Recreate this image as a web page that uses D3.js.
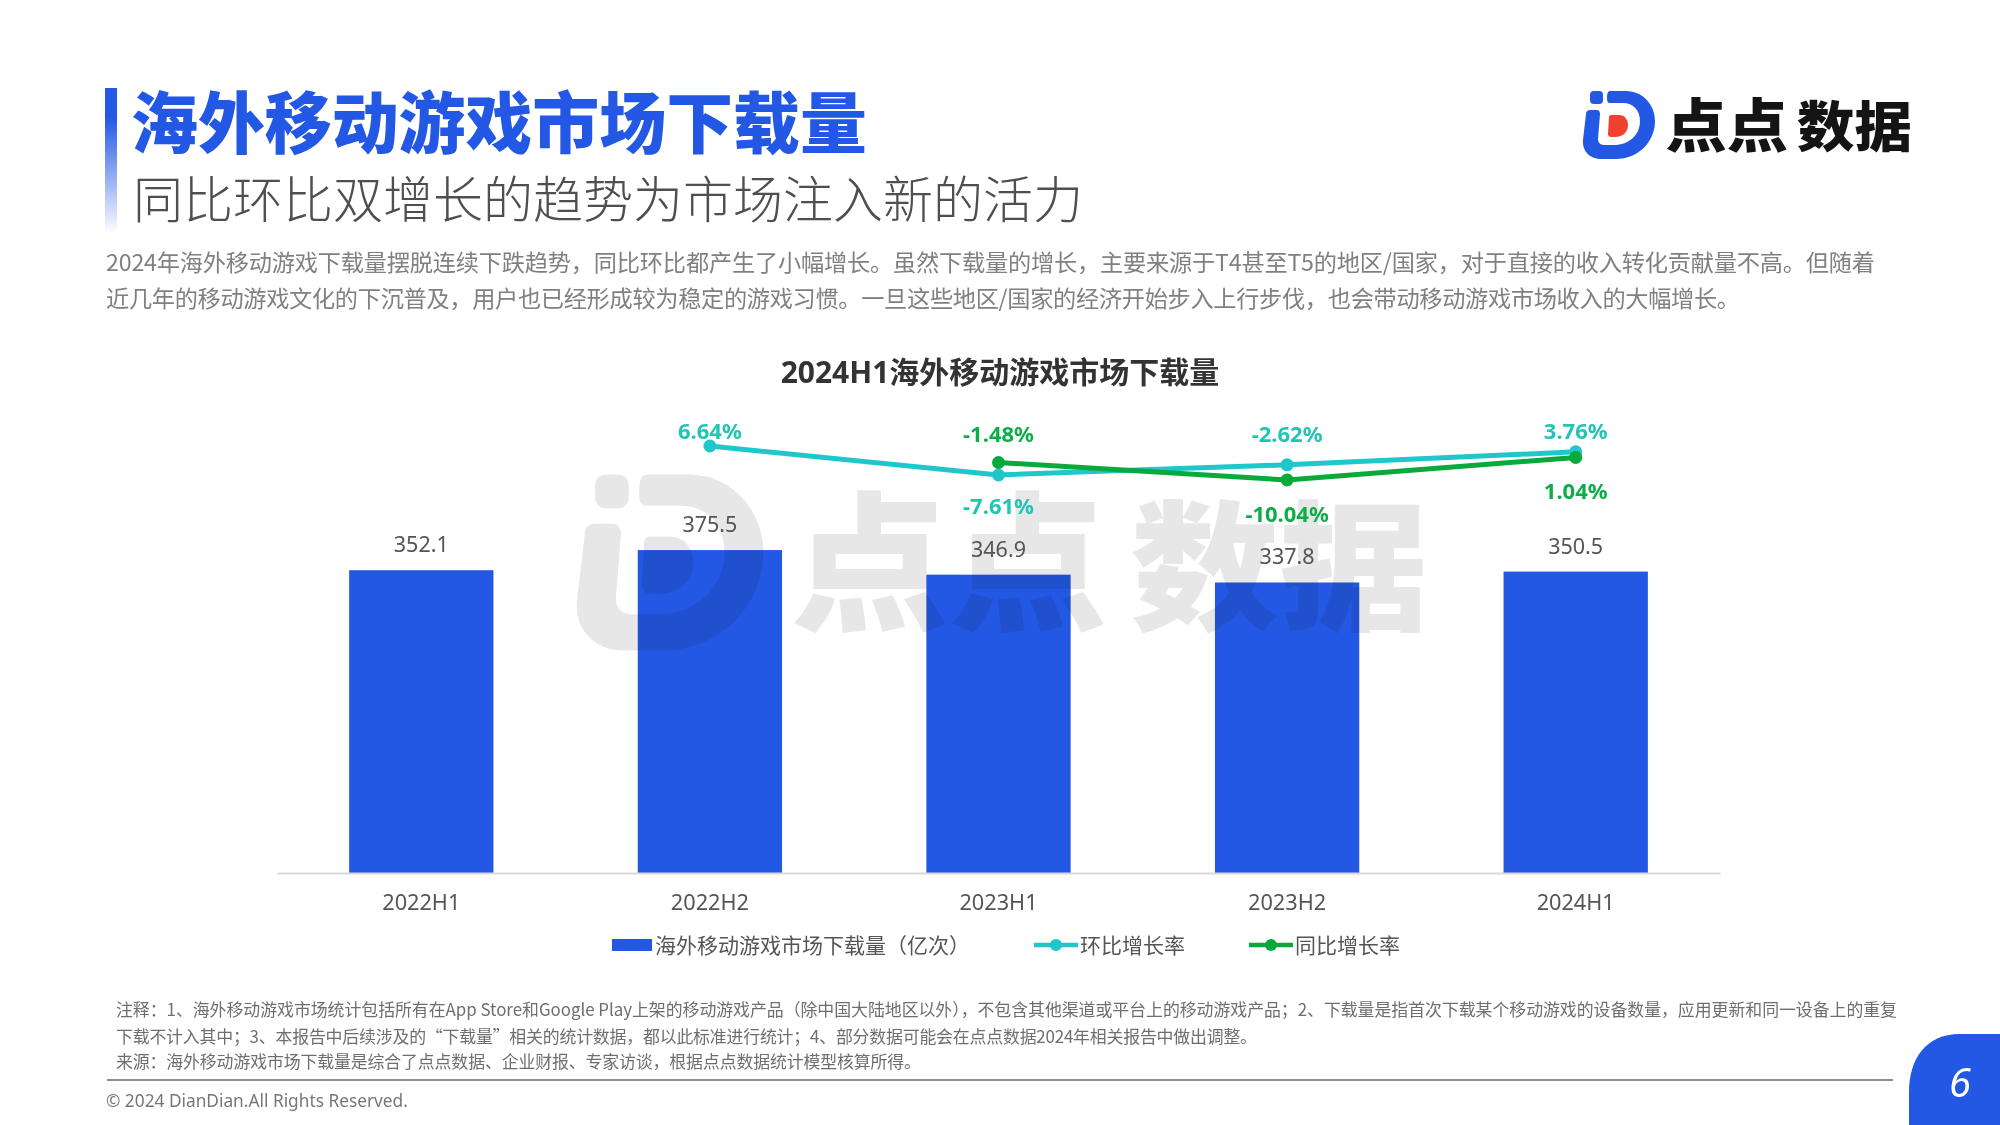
<!DOCTYPE html>
<html>
<head>
<meta charset="utf-8">
<script src="https://cdn.jsdelivr.net/npm/d3@7/dist/d3.min.js"></script>
<style>
    html, body { margin: 0; padding: 0; background: #fff; }
    svg { display: block; }
    text { font-family: "Noto Sans", "Noto Sans CJK SC", sans-serif; }
</style>
</head>
<body>
<svg id="slide" width="2000" height="1125"></svg>
<script>
const categories = ['2022H1', '2022H2', '2023H1', '2023H2', '2024H1'];
const downloads = [352.1, 375.5, 346.9, 337.8, 350.5];
const qoqGrowth = [null, 6.64, -7.61, -2.62, 3.76];
const yoyGrowth = [null, null, -1.48, -10.04, 1.04];

const legendLabels = ['海外移动游戏市场下载量（亿次）', '环比增长率', '同比增长率'];
const headline = '海外移动游戏市场下载量';
const subhead = '同比环比双增长的趋势为市场注入新的活力';
const chartTitle = '2024H1海外移动游戏市场下载量';
const bodyLines = [
    '2024年海外移动游戏下载量摆脱连续下跌趋势，同比环比都产生了小幅增长。虽然下载量的增长，主要来源于T4甚至T5的地区/国家，对于直接的收入转化贡献量不高。但随着',
    '近几年的移动游戏文化的下沉普及，用户也已经形成较为稳定的游戏习惯。一旦这些地区/国家的经济开始步入上行步伐，也会带动移动游戏市场收入的大幅增长。'
];
const noteLines = [
    '注释：1、海外移动游戏市场统计包括所有在App Store和Google Play上架的移动游戏产品（除中国大陆地区以外），不包含其他渠道或平台上的移动游戏产品；2、下载量是指首次下载某个移动游戏的设备数量，应用更新和同一设备上的重复',
    '下载不计入其中；3、本报告中后续涉及的“下载量”相关的统计数据，都以此标准进行统计；4、部分数据可能会在点点数据2024年相关报告中做出调整。',
    '来源：海外移动游戏市场下载量是综合了点点数据、企业财报、专家访谈，根据点点数据统计模型核算所得。'
];
const copyright = '© 2024 DianDian.All Rights Reserved.';

const BLUE = '#2358e4';
const TEAL = '#1fc7cb';
const GREEN = '#0aa93c';
const CJK = '"Noto Sans CJK SC", sans-serif';

const svg = d3.select('#slide');

// same mark is used twice: top right logo and the big grey watermark
function drawLogo(g, markFill, dotFill, textFill) {
    g.append('rect').attr('x', 7).attr('y', 1).attr('width', 13).attr('height', 13).attr('rx', 4).attr('fill', markFill);
    g.append('path')
        .attr('fill', markFill)
        .attr('d', 'M27,1 L43,1 C60,1 72,15 72,31 C72,52 55,69 33,69 L18,69 C6,69 -1,60 0,50 L3,24 C3,21 5,20 7,20 L14,20 C16,20 17,22 17,24 L15,49 C15,52 17,55 21,55 L31,55 C46,55 57,45 57,31 C57,20 50,13 40,13 L27,13 C25,13 24,12 24,8 C24,3 25,1 27,1 Z');
    g.append('path')
        .attr('fill', dotFill)
        .attr('d', 'M28,25 L36,25 C42,25 45,30 45,35 C45,42 40,47 32,47 L28,47 C26,47 25,45 25,44 L26,27 C26,26 27,25 28,25 Z');
    g.append('text').attr('x', 82.5).attr('y', 57).attr('textLength', 122.5).attr('lengthAdjust', 'spacingAndGlyphs')
        .attr('font-size', 58).attr('font-weight', 900).style('font-family', CJK).attr('fill', textFill).text('点点');
    g.append('text').attr('x', 214).attr('y', 57).attr('textLength', 115).attr('lengthAdjust', 'spacingAndGlyphs')
        .attr('font-size', 54).attr('font-weight', 900).style('font-family', CJK).attr('fill', textFill).text('数据');
}

function drawHeader() {
    const grad = svg.append('defs').append('linearGradient')
        .attr('id', 'barFade').attr('x1', 0).attr('y1', 0).attr('x2', 0).attr('y2', 1);
    grad.append('stop').attr('offset', '0%').attr('stop-color', BLUE);
    grad.append('stop').attr('offset', '20%').attr('stop-color', BLUE);
    grad.append('stop').attr('offset', '100%').attr('stop-color', BLUE).attr('stop-opacity', 0);

    svg.append('rect').attr('x', 105).attr('y', 88).attr('width', 12).attr('height', 146).attr('fill', 'url(#barFade)');

    svg.append('text').attr('x', 131).attr('y', 148).attr('font-size', 66.9).attr('font-weight', 900)
        .style('font-family', CJK).attr('fill', BLUE).text(headline);
    svg.append('text').attr('x', 133).attr('y', 218).attr('font-size', 50).attr('font-weight', 300)
        .style('font-family', CJK).attr('fill', '#4f4f4f').text(subhead);

    const bodyWidths = [1769, 1634];
    svg.selectAll('.body-line')
        .data(bodyLines)
        .enter()
        .append('text')
        .attr('class', 'body-line')
        .attr('x', 106)
        .attr('y', (d, i) => 271 + i * 36)
        .attr('font-size', 23.2)
        .attr('textLength', (d, i) => bodyWidths[i])
        .style('font-family', CJK)
        .attr('fill', '#808080')
        .text(d => d);

    drawLogo(svg.append('g').attr('transform', 'translate(1583,90)'), BLUE, '#f0402f', '#141414');
}

function drawChart() {
    const x = d3.scaleBand().domain(categories).range([277, 1720]).paddingInner(0.5).paddingOuter(0.25);
    const y = d3.scaleLinear().domain([0, 400]).range([873, 529]);
    const yRate = d3.scaleLinear().domain([-20, 20]).range([500.2, 418.8]);

    svg.append('text').attr('x', 1000).attr('y', 383).attr('text-anchor', 'middle')
        .attr('font-size', 30).attr('font-weight', 700).attr('fill', '#333').text(chartTitle);

    svg.selectAll('.bar')
        .data(downloads)
        .enter()
        .append('rect')
        .attr('class', 'bar')
        .attr('x', (d, i) => x(categories[i]))
        .attr('y', d => y(d))
        .attr('width', x.bandwidth())
        .attr('height', d => y(0) - y(d))
        .attr('fill', BLUE);

    const watermark = svg.append('g')
        .attr('transform', 'translate(577,472) scale(2.587)')
        .style('mix-blend-mode', 'multiply');
    drawLogo(watermark, '#e7e7e7', '#e7e7e7', '#e7e7e7');

    const xAxis = svg.append('g')
        .attr('transform', 'translate(0,873)')
        .call(d3.axisBottom(x).tickSize(0).tickPadding(22));
    xAxis.select('.domain').attr('stroke', '#d9d9d9').attr('stroke-width', 2);
    xAxis.selectAll('text').attr('font-size', 21.7).attr('fill', '#555')
        .style('font-family', '"Noto Sans", sans-serif');

    svg.selectAll('.bar-label')
        .data(downloads)
        .enter()
        .append('text')
        .attr('class', 'bar-label')
        .attr('x', (d, i) => x(categories[i]) + x.bandwidth() / 2)
        .attr('y', d => y(d) - 18)
        .attr('text-anchor', 'middle')
        .attr('font-size', 21.5)
        .attr('fill', '#555')
        .text(d => d.toFixed(1));

    const center = i => x(categories[i]) + x.bandwidth() / 2;
    const line = d3.line()
        .defined(d => d !== null)
        .x((d, i) => center(i))
        .y(d => yRate(d));

    const series = [
        { values: qoqGrowth, other: yoyGrowth, color: TEAL, labelColor: '#22c4b4', below: 39, key: 'qoq' },
        { values: yoyGrowth, other: qoqGrowth, color: GREEN, labelColor: '#0bae48', below: 42, key: 'yoy' }
    ];

    series.forEach(s => {
        svg.append('path')
            .datum(s.values)
            .attr('fill', 'none')
            .attr('stroke', s.color)
            .attr('stroke-width', 5)
            .attr('d', line);

        svg.selectAll('.dot-' + s.key)
            .data(s.values)
            .enter()
            .filter(d => d !== null)
            .append('circle')
            .attr('class', 'dot-' + s.key)
            .attr('cx', d => center(s.values.indexOf(d)))
            .attr('cy', d => yRate(d))
            .attr('r', 6.5)
            .attr('fill', s.color);

        // the higher of the two rates gets its label in the row above the lines, the lower goes under them
        svg.selectAll('.rate-' + s.key)
            .data(s.values)
            .enter()
            .filter(d => d !== null)
            .append('text')
            .attr('class', 'rate-' + s.key)
            .attr('x', d => center(s.values.indexOf(d)))
            .attr('y', d => {
                const other = s.other[s.values.indexOf(d)];
                if (other !== null && other > d) return yRate(d) + s.below;
                return d > 3 ? 439 : 442;
            })
            .attr('text-anchor', 'middle')
            .attr('font-size', 22)
            .attr('font-weight', 700)
            .attr('fill', s.labelColor)
            .text(d => d.toFixed(2) + '%');
    });
}

function drawLegend() {
    const legend = svg.append('g').attr('transform', 'translate(0,945)');
    legend.append('rect').attr('x', 612).attr('y', -6).attr('width', 40).attr('height', 12).attr('fill', BLUE);
    legend.append('text').attr('x', 655).attr('y', 8).attr('font-size', 21).attr('fill', '#555').text(legendLabels[0]);

    [[1034, TEAL, 1], [1249, GREEN, 2]].forEach(([lx, color, idx]) => {
        legend.append('line').attr('x1', lx).attr('x2', lx + 44).attr('stroke', color).attr('stroke-width', 4.5);
        legend.append('circle').attr('cx', lx + 22).attr('r', 6).attr('fill', color);
        legend.append('text').attr('x', lx + 46).attr('y', 8).attr('font-size', 21).attr('fill', '#555').text(legendLabels[idx]);
    });
}

function drawFooter() {
    const noteWidths = [1781, 1141, 805];
    svg.selectAll('.note-line')
        .data(noteLines)
        .enter()
        .append('text')
        .attr('class', 'note-line')
        .attr('x', 116)
        .attr('y', (d, i) => [1016, 1043, 1068][i])
        .attr('font-size', 16.9)
        .attr('textLength', (d, i) => noteWidths[i])
        .style('font-family', CJK)
        .attr('fill', '#6e6e6e')
        .text(d => d);

    svg.append('line').attr('x1', 107).attr('x2', 1893).attr('y1', 1080).attr('y2', 1080)
        .attr('stroke', '#8f8f8f').attr('stroke-width', 2);

    svg.append('text').attr('x', 106).attr('y', 1107).attr('font-size', 17.3).attr('fill', '#777').text(copyright);

    svg.append('path').attr('fill', BLUE).attr('d', 'M1909,1125 L1909,1092 C1909,1060 1925,1034 1960,1034 L2000,1034 L2000,1125 Z');
    svg.append('text').attr('x', 1960).attr('y', 1097).attr('text-anchor', 'middle').attr('font-size', 40)
        .attr('font-style', 'italic').attr('fill', '#fff').text('6');
}

function init() {
    drawHeader();
    drawChart();
    drawLegend();
    drawFooter();
}

document.addEventListener('DOMContentLoaded', init);
</script>
</body>
</html>
